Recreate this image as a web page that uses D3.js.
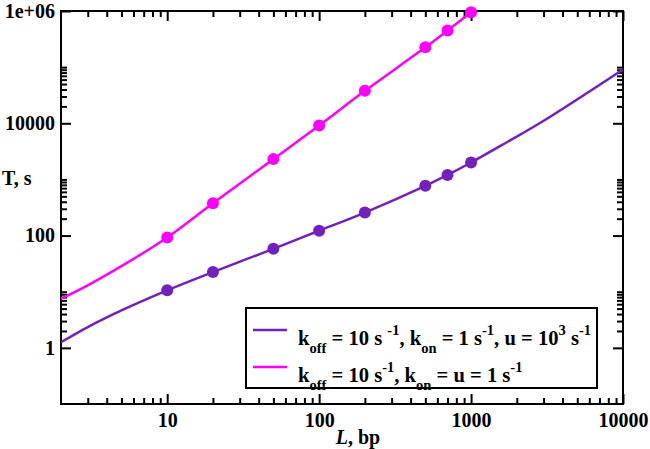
<!DOCTYPE html>
<html>
<head>
<meta charset="utf-8">
<script src="https://cdn.jsdelivr.net/npm/d3@7/dist/d3.min.js"></script>
<style>
  body { margin: 0; background: #fff; }
  text { font-family: "Liberation Serif", "Times New Roman", serif; font-weight: bold; }
</style>
</head>
<body>
<div id="chart"></div>
<script>
// marker positions (L, bp) and read-off values (T, s)
const pointL = [10, 20, 50, 100, 200, 500, 700, 1000];
const pointSlow = [10.6, 22.4, 58, 122, 257, 768, 1200, 2000];            // koff=10, kon=1, u=10^3
const pointFast = [92.5, 375, 2300, 9100, 37800, 225000, 450000, 950000]; // koff=10, kon=u=1

// samples along the continuous curves
const curveSlowL = [2, 3, 5, 10, 20, 50, 100, 200, 500, 700, 1000, 1720, 2840, 10000];
const curveSlowT = [1.26, 2.35, 4.66, 10.6, 22.4, 58, 122, 257, 768, 1200, 2000, 4600, 10100, 91000];
const curveFastL = [2, 3, 5, 10, 20, 50, 100, 200, 500, 700, 1000];
const curveFastT = [7.5, 13, 28.5, 92.5, 375, 2300, 9100, 37800, 225000, 450000, 950000];

// axis ticks
const xMajor = [10, 100, 1000, 10000];
const xLabels = ['10', '100', '1000', '10000'];
const yMajor = [1, 100, 10000, 1e6];
const yLabels = ['1', '100', '10000', '1e+06'];
const yMinorMult = [2, 3, 4, 5, 6, 7, 8, 9, 10];

const colors = { slow: '#7221bc', fast: '#ff00ff' };

const width = 650, height = 449;
const plot = { left: 61, right: 623, top: 11, bottom: 404 };

const svg = d3.select('#chart').append('svg')
  .attr('width', width)
  .attr('height', height);

const x = d3.scaleLog().domain([2, 10000]).range([plot.left, plot.right]);
const y = d3.scaleLog().domain([0.1, 1e6]).range([plot.bottom, plot.top]);

// minor ticks: x every 2..9 per decade, y only in the decade above each major
const xMinor = x.ticks().filter(v => !xMajor.includes(v) && v > 2.01);
const yMinor = yMajor.slice(0, -1).flatMap(m => yMinorMult.map(k => m * k));

function styleAxis(g) {
  g.select('.domain').remove();
  g.selectAll('.tick line').attr('stroke', '#000').attr('stroke-width', 2);
  g.selectAll('.tick text').attr('font-size', 20).attr('fill', '#000');
}

// bottom
svg.append('g').attr('transform', `translate(0,${plot.bottom})`)
  .call(d3.axisBottom(x).tickValues(xMajor).tickSize(-10).tickPadding(9)
    .tickFormat((d, i) => xLabels[i]))
  .call(styleAxis);
svg.append('g').attr('transform', `translate(0,${plot.bottom})`)
  .call(d3.axisBottom(x).tickValues(xMinor).tickSize(-6).tickFormat(''))
  .call(styleAxis);
// top
svg.append('g').attr('transform', `translate(0,${plot.top})`)
  .call(d3.axisTop(x).tickValues(xMajor).tickSize(-10).tickFormat(''))
  .call(styleAxis);
svg.append('g').attr('transform', `translate(0,${plot.top})`)
  .call(d3.axisTop(x).tickValues(xMinor).tickSize(-6).tickFormat(''))
  .call(styleAxis);
// left
svg.append('g').attr('transform', `translate(${plot.left},0)`)
  .call(d3.axisLeft(y).tickValues(yMajor).tickSize(-10).tickPadding(6)
    .tickFormat((d, i) => yLabels[i]))
  .call(styleAxis);
svg.append('g').attr('transform', `translate(${plot.left},0)`)
  .call(d3.axisLeft(y).tickValues(yMinor).tickSize(-6).tickFormat(''))
  .call(styleAxis);
// right
svg.append('g').attr('transform', `translate(${plot.right},0)`)
  .call(d3.axisRight(y).tickValues(yMajor).tickSize(-10).tickFormat(''))
  .call(styleAxis);
svg.append('g').attr('transform', `translate(${plot.right},0)`)
  .call(d3.axisRight(y).tickValues(yMinor).tickSize(-6).tickFormat(''))
  .call(styleAxis);

// frame
svg.append('rect')
  .attr('x', plot.left).attr('y', plot.top)
  .attr('width', plot.right - plot.left).attr('height', plot.bottom - plot.top)
  .attr('fill', 'none').attr('stroke', '#000').attr('stroke-width', 2);

// axis titles
svg.append('text')
  .attr('x', 2).attr('y', 185)
  .attr('font-size', 20)
  .text('T, s');

const xTitle = svg.append('text')
  .attr('x', 358).attr('y', 444)
  .attr('font-size', 20)
  .attr('text-anchor', 'middle');
xTitle.append('tspan').attr('font-style', 'italic').text('L');
xTitle.append('tspan').text(', bp');

// curves
svg.append('clipPath').attr('id', 'plot-clip')
  .append('rect')
  .attr('x', plot.left).attr('y', plot.top)
  .attr('width', plot.right - plot.left).attr('height', plot.bottom - plot.top);

const line = d3.line()
  .x(d => x(d[0]))
  .y(d => y(d[1]))
  .curve(d3.curveCatmullRom.alpha(0.5));

const curves = [
  { pts: d3.zip(curveSlowL, curveSlowT), color: colors.slow },
  { pts: d3.zip(curveFastL, curveFastT), color: colors.fast },
];

svg.append('g')
  .attr('clip-path', 'url(#plot-clip)')
  .selectAll('path')
  .data(curves)
  .join('path')
  .attr('d', d => line(d.pts))
  .attr('fill', 'none')
  .attr('stroke', d => d.color)
  .attr('stroke-width', 2.5);

// markers
const markers = [
  { pts: d3.zip(pointL, pointSlow), color: colors.slow },
  { pts: d3.zip(pointL, pointFast), color: colors.fast },
];

svg.append('g')
  .selectAll('g')
  .data(markers)
  .join('g')
  .attr('fill', d => d.color)
  .selectAll('circle')
  .data(d => d.pts)
  .join('circle')
  .attr('cx', d => x(d[0]))
  .attr('cy', d => y(d[1]))
  .attr('r', 6);

// legend
const legend = svg.append('g');
legend.append('rect')
  .attr('x', 246).attr('y', 308)
  .attr('width', 351).attr('height', 80)
  .attr('fill', '#fff').attr('stroke', '#000').attr('stroke-width', 2);

// each entry: list of [text, kind] where kind is '', 'sub' or 'sup'
const legendRows = [
  {
    color: colors.slow,
    parts: [['k', ''], ['off', 'sub'], [' = 10 s ', ''], ['-1', 'sup'], [', k', ''], ['on', 'sub'],
            [' = 1 s', ''], ['-1', 'sup'], [', u = 10', ''], ['3', 'sup'], [' s', ''], ['-1', 'sup']],
  },
  {
    color: colors.fast,
    parts: [['k', ''], ['off', 'sub'], [' = 10 s', ''], ['-1', 'sup'], [', k', ''], ['on', 'sub'],
            [' = u = 1 s', ''], ['-1', 'sup']],
  },
];

const shift = { '': 0, sub: 8, sup: -10 };

legendRows.forEach((row, i) => {
  const ly = 330 + i * 37;
  legend.append('line')
    .attr('x1', 253).attr('x2', 287)
    .attr('y1', ly).attr('y2', ly)
    .attr('stroke', row.color).attr('stroke-width', 2.5);

  const t = legend.append('text')
    .attr('x', 298).attr('y', ly + 15)
    .attr('font-size', 20.6)
    .attr('xml:space', 'preserve')
    .style('white-space', 'pre');
  let prev = 0;
  row.parts.forEach(([s, kind]) => {
    t.append('tspan')
      .attr('dy', shift[kind] - prev)
      .attr('font-size', kind ? 14.5 : 20.6)
      .text(s);
    prev = shift[kind];
  });
});
</script>
</body>
</html>
